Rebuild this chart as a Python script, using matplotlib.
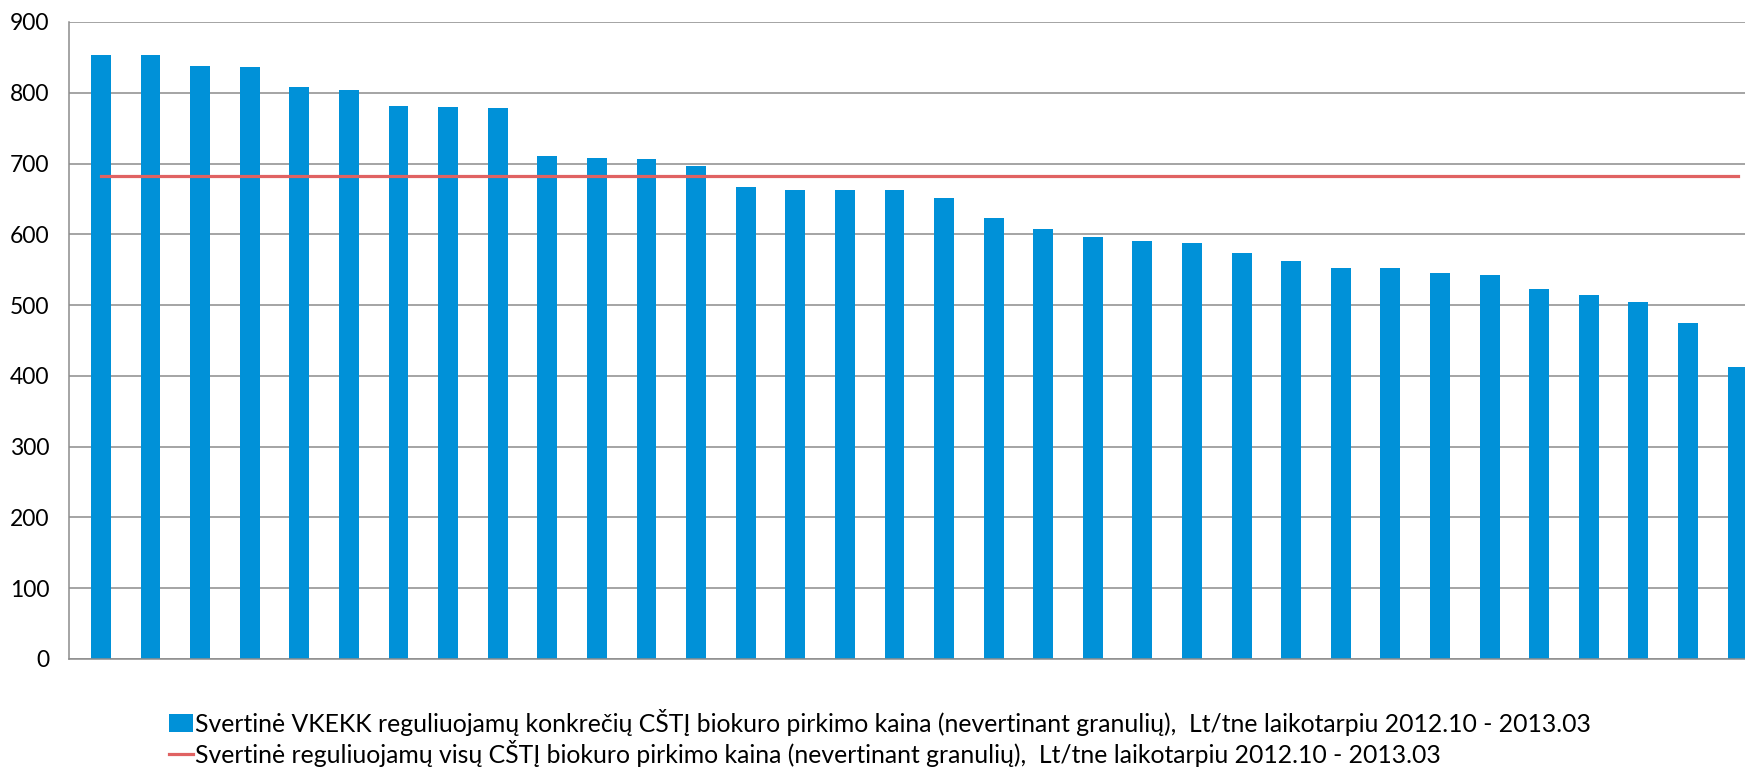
import matplotlib
matplotlib.use('Agg')
import matplotlib.pyplot as plt
import numpy as np

# Svertinė kaina pagal CŠT (Lt/tne)
kainos = [854, 854, 838, 837, 808, 804, 781, 780, 778, 710, 708, 707, 696,
          667, 663, 662, 662, 652, 623, 607, 596, 591, 588, 573, 562, 552,
          552, 545, 542, 523, 514, 504, 475, 412]
vidurkis = 682
yticks = [0, 100, 200, 300, 400, 500, 600, 700, 800, 900]

label_bar = ('Svertinė VKEKK reguliuojamų konkrečių CŠTĮ biokuro pirkimo kaina '
             '(nevertinant granulių),  Lt/tne laikotarpiu 2012.10 - 2013.03')
label_line = ('Svertinė reguliuojamų visų CŠTĮ biokuro pirkimo kaina '
              '(nevertinant granulių),  Lt/tne laikotarpiu 2012.10 - 2013.03')

plt.rcParams['font.family'] = ['Lato', 'DejaVu Sans']

fig = plt.figure(figsize=(17.45, 7.71), dpi=100)
ax = fig.add_axes([0.0395, 0.1453, 0.9605, 0.8262])

x = np.arange(len(kainos))
bars = ax.bar(x, kainos, width=0.4, color='#0091D8', label=label_bar, zorder=2)
ln, = ax.plot(x, [vidurkis] * len(kainos), color='#E06262', lw=2.3,
              label=label_line, zorder=3)

ax.set_ylim(0, 900)
ax.set_yticks(yticks)
ax.set_xlim(-0.645, 33.15)
ax.set_xticks([])
ax.yaxis.grid(True, color='#8C8C8C', lw=1.1, zorder=0)
ax.set_axisbelow(True)
ax.tick_params(axis='y', length=0, pad=14, labelsize=16.5)

for s in ['top', 'right']:
    ax.spines[s].set_visible(False)
ax.spines['left'].set_color('#8C8C8C')
ax.spines['bottom'].set_color('#8C8C8C')
ax.spines['left'].set_linewidth(1.1)
ax.spines['bottom'].set_linewidth(1.1)

fig.legend(handles=[bars, ln], loc='upper left', bbox_to_anchor=(0.097, 0.081),
           frameon=False, fontsize=17.8, handlelength=0.95, handleheight=0.8,
           handletextpad=0.1, labelspacing=0.2, borderpad=0, borderaxespad=0)

fig.savefig('out.png', dpi=100)
